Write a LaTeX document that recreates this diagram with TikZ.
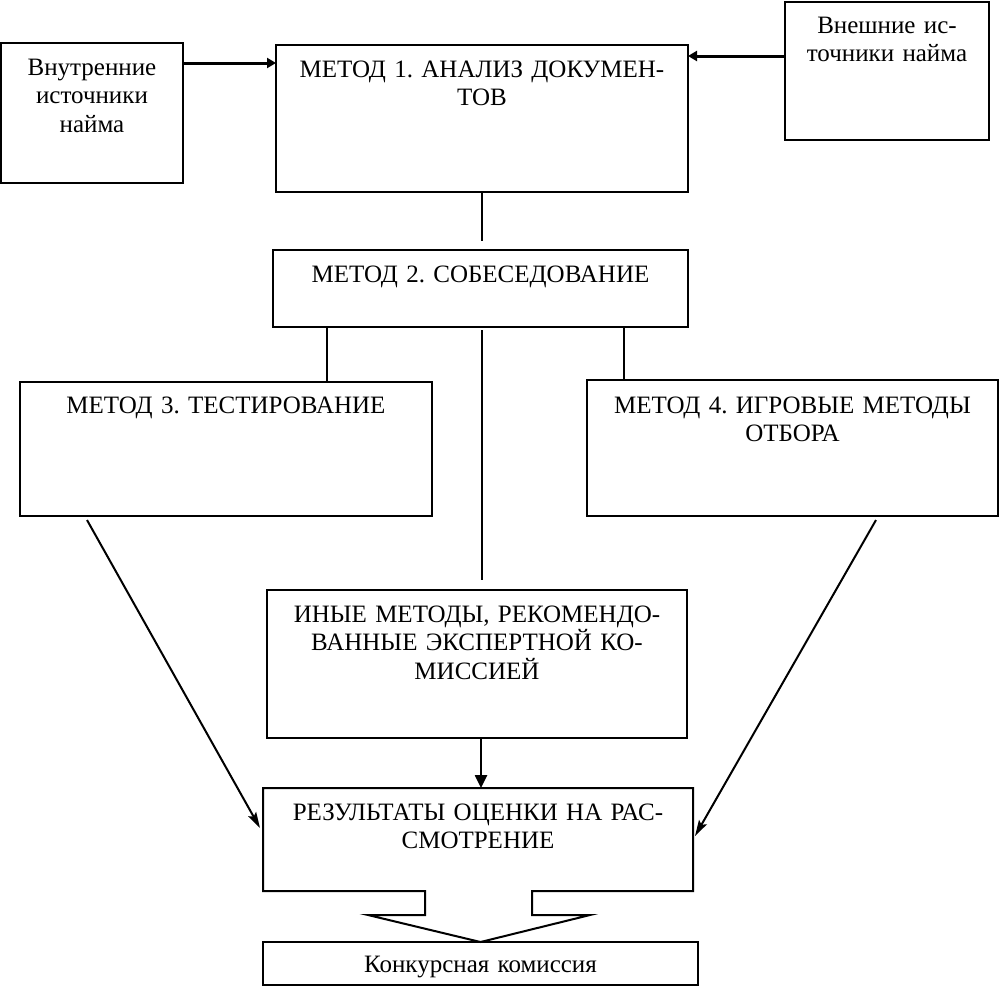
\documentclass[tikz,border=0pt]{standalone}
\usepackage{fontspec}
\setmainfont{Liberation Serif}
\usetikzlibrary{arrows.meta,calc}
\begin{document}
\frenchspacing
\begin{tikzpicture}[x=1pt,y=-1pt,
  box/.style={draw, line width=2pt, anchor=north west, inner sep=0pt, outer sep=0pt},
  lbl/.style={anchor=base, align=center, inner sep=0pt, font=\fontsize{25}{28.75}\selectfont\frenchspacing, text width=#1},
  lbl/.default=400pt,
  conn/.style={line width=1.6pt},
  arrT/.style={line width=3pt, -{Triangle[length=9pt,width=10pt]}},
  arrM/.style={line width=2.5pt, -{Triangle[length=13pt,width=12pt]}},
  arrD/.style={line width=2pt, -{Stealth[length=16pt,width=9pt,inset=3pt]}},
]
\useasboundingbox (0,0) rectangle (1000,986);

% boxes
\node[box, minimum width=182pt, minimum height=140pt] (vn) at (1,43) {};
\node[box, minimum width=412pt, minimum height=147pt] (m1) at (276,45) {};
\node[box, minimum width=204pt, minimum height=138pt] (vsh) at (785,2) {};
\node[box, minimum width=415pt, minimum height=77pt] (m2) at (273,250) {};
\node[box, minimum width=412pt, minimum height=134pt] (m3) at (20,382) {};
\node[box, minimum width=411pt, minimum height=136pt] (m4) at (587,380) {};
\node[box, minimum width=420pt, minimum height=148pt] (iny) at (267,590) {};
\node[box, draw=none, minimum width=430pt, minimum height=103pt] (res) at (263,788) {};
\node[box, minimum width=435pt, minimum height=43pt] (kon) at (263,942) {};

% labels
\node[lbl=180pt] (vnt) at ($(vn.north)+(0,32)$) {Внутренние\\источники\\найма};
\node[lbl] (m1t) at ($(m1.north)+(0,32)$) {МЕТОД 1. АНАЛИЗ ДОКУМЕН-\\ТОВ};
\node[lbl=200pt] (vsht) at ($(vsh.north)+(0,31)$) {Внешние ис-\\точники найма};
\node[lbl] (m2t) at ($(m2.north)+(0,32)$) {МЕТОД 2. СОБЕСЕДОВАНИЕ};
\node[lbl] (m3t) at ($(m3.north)+(0,31)$) {МЕТОД 3. ТЕСТИРОВАНИЕ};
\node[lbl] (m4t) at ($(m4.north)+(0,33)$) {МЕТОД 4. ИГРОВЫЕ МЕТОДЫ\\ОТБОРА};
\node[lbl] (inyt) at ($(iny.north)+(0,32)$) {ИНЫЕ МЕТОДЫ, РЕКОМЕНДО-\\ВАННЫЕ ЭКСПЕРТНОЙ КО-\\МИССИЕЙ};
\node[lbl] (rest) at ($(res.north)+(0,32)$) {РЕЗУЛЬТАТЫ ОЦЕНКИ НА РАС-\\СМОТРЕНИЕ};
\node[lbl] (kont) at ($(kon.north)+(0,30)$) {Конкурсная комиссия};

% results box with block arrow to commission
\draw[line width=2pt, line join=miter]
  ($(res.south west)+(162,0)$) -- (res.south west) -- (res.north west)
  -- (res.north east) -- (res.south east) -- ($(res.south west)+(269,0)$)
  -- ($(res.south west)+(269,24)$) -- ($(res.south west)+(327,24)$)
  -- (kon.north)
  -- ($(res.south west)+(105,24)$) -- ($(res.south west)+(162,24)$) -- cycle;

% connectors
\coordinate (cx) at (482,0);
\coordinate (ctop) at (482,330);
\coordinate (cbot) at (482,580);
\draw[arrT] (vn.east |- 0,63) -- (m1.west |- 0,63);
\draw[arrT] (vsh.west |- 0,56) -- (m1.east |- 0,56);
\draw[conn] (m1.south -| cx) -- ([yshift=9pt]m2.north -| cx);
\draw[conn] (m2.south -| 327,0) -- (m3.north -| 327,0);
\draw[conn] (m2.south -| 624,0) -- (m4.north -| 624,0);
\draw[conn] (ctop) -- (cbot);
\draw[arrM] (iny.south -| 481,0) -- (res.north -| 481,0);
\draw[arrD] ($(m3.south west)+(67,4)$) -- ($(res.north west)+(-3,40)$);
\draw[arrD] ($(m4.south west)+(289,4)$) -- ($(res.north east)+(2,48)$);
\end{tikzpicture}
\end{document}
